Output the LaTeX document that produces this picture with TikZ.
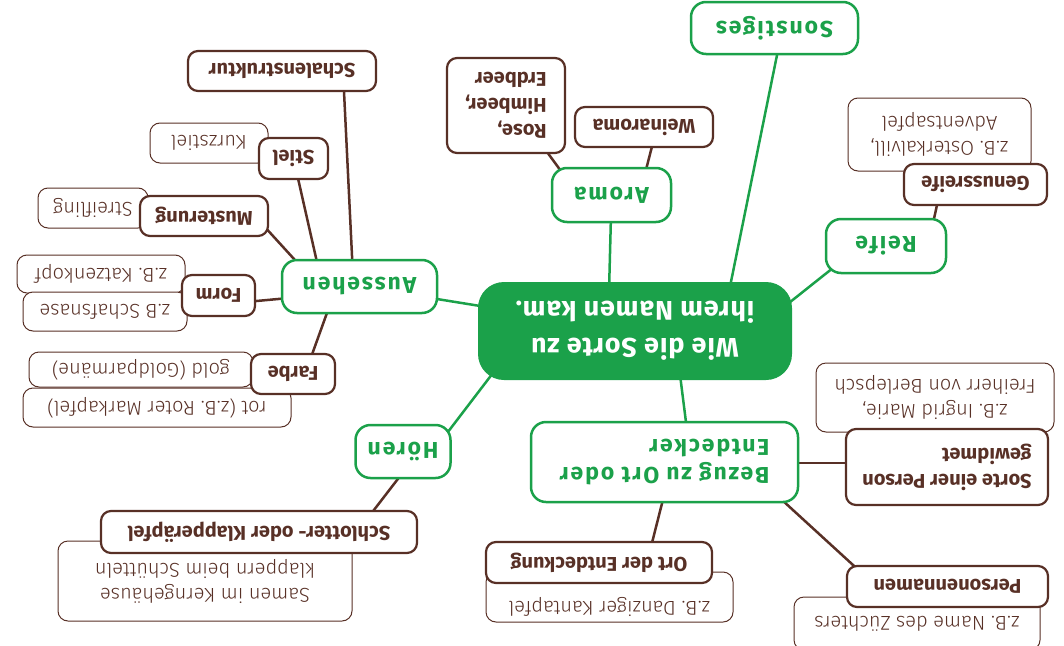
\documentclass[tikz,border=0pt]{standalone}
\usepackage{fontspec}
\setmainfont{Fira Sans}
\newfontfamily\zweigfont{Fira Sans}[LetterSpace=8]
\newfontfamily\mittefont{Fira Sans}[LetterSpace=3]
\newfontfamily\duennfont{Fira Sans Light}
\usetikzlibrary{backgrounds}

\definecolor{apfelgruen}{RGB}{27,161,74}
\definecolor{rinde}{RGB}{88,48,38}

\tikzset{
  kasten/.style={rotate=180, inner sep=0pt, fill=white},
  zentrum/.style={kasten, fill=apfelgruen, text=white, rounded corners=26pt, align=center,
    font=\mittefont\bfseries\fontsize{27}{37}\selectfont},
  zweig/.style={kasten, draw=apfelgruen, line width=2.5pt, rounded corners=15pt, text=apfelgruen,
    font=\zweigfont\bfseries\fontsize{23}{28}\selectfont},
  stichwort/.style={kasten, draw=rinde, line width=2.2pt, rounded corners=10pt, text=rinde,
    font=\bfseries\fontsize{20}{26}\selectfont},
  beispiel/.style={kasten, draw=rinde, line width=1pt, rounded corners=10pt, text=rinde,
    font=\duennfont\fontsize{20}{25}\selectfont},
  gruenlinie/.style={draw=apfelgruen, line width=2.5pt},
  braunlinie/.style={draw=rinde, line width=2.5pt},
}

\begin{document}
\begin{tikzpicture}[x=1pt, y=-1pt]
  \useasboundingbox (0,0) rectangle (1064,645);

  % Mitte
  \node[zentrum, minimum width=314pt, minimum height=98pt] (mitte) at (635,331)
    {Wie die Sorte zu\\ihrem Namen kam.};

  % Hauptzweige
  \node[zweig, minimum width=155pt, minimum height=53pt] (aussehen) at (359.5,286.5) {Aussehen};
  \node[zweig, minimum width=95pt, minimum height=53pt] (hoeren) at (403,451.5) {Hören};
  \node[zweig, minimum width=119pt, minimum height=54pt] (aroma) at (611.5,195) {Aroma};
  \node[zweig, minimum width=167pt, minimum height=52pt] (sonstiges) at (774.5,28) {Sonstiges};
  \node[zweig, minimum width=120pt, minimum height=54pt] (reife) at (886,246) {Reife};
  \node[zweig, minimum width=267pt, minimum height=80pt, align=left] (bezug) at (664.5,462)
    {Bezug zu Ort oder\\Entdecker};

  % Beispiele (liegen unter den Stichworten)
  \node[beispiel, minimum width=118pt, minimum height=40pt] (kurzstiel) at (209,143) {Kurzstiel};
  \node[beispiel, minimum width=110pt, minimum height=40pt] (streifling) at (93,208) {Streifling};
  \node[beispiel, minimum width=168pt, minimum height=38pt] (katzenkopf) at (101,274) {z.B. Katzenkopf};
  \node[beispiel, minimum width=164pt, minimum height=39pt] (schafsnase) at (105,311.5) {z.B Schafsnase};
  \node[beispiel, minimum width=224pt, minimum height=35pt] (gold) at (141,369.5) {gold (Goldparmäne)};
  \node[beispiel, minimum width=268pt, minimum height=39pt] (rot) at (157,407.5) {rot (z.B. Roter Markapfel)};
  \node[beispiel, minimum width=294pt, minimum height=80pt, align=center] (samen) at (205,581)
    {Samen im Kerngehäuse\\klappern beim Schütteln};
  \node[beispiel, minimum width=183pt, minimum height=73pt, align=center] (osterkalvill) at (939.5,134.5)
    {z.B. Osterkalvill,\\Adventsapfel};
  \node[beispiel, minimum width=238pt, minimum height=69pt, align=center] (ingrid) at (935,397.5)
    {z.B. Ingrid Marie,\\Freiherr von Berlepsch};
  \node[beispiel, minimum width=246pt, minimum height=53pt] (zuechter) at (917,623.5) {z.B. Name des Züchters};
  \node[beispiel, minimum width=247pt, minimum height=50pt, text height=14pt, text depth=22pt] (danzig) at (609.5,597)
    {z.B. Danziger Kantapfel};

  % Stichworte
  \node[stichwort, minimum width=188pt, minimum height=40pt] (schale) at (282,71) {Schalenstruktur};
  \node[stichwort, minimum width=69pt, minimum height=41pt] (stiel) at (293.5,158.5) {Stiel};
  \node[stichwort, minimum width=128pt, minimum height=40pt] (muster) at (204,216) {Musterung};
  \node[stichwort, minimum width=73pt, minimum height=41pt] (form) at (218.5,295.5) {Form};
  \node[stichwort, minimum width=84pt, minimum height=40pt] (farbe) at (293,374) {Farbe};
  \node[stichwort, minimum width=316pt, minimum height=42pt] (klapper) at (259,532) {Schlotter- oder Klapperäpfel};
  \node[stichwort, minimum width=138pt, minimum height=40pt] (weinaroma) at (644,127) {Weinaroma};
  \node[stichwort, minimum width=118pt, minimum height=95pt, align=left] (beeren) at (506,105.5)
    {Rose,\\Himbeer,\\Erdbeer};
  \node[stichwort, minimum width=143pt, minimum height=41pt] (genussreife) at (975.5,184.5) {Genussreife};
  \node[stichwort, minimum width=202pt, minimum height=76pt, align=left] (person) at (947,467)
    {Sorte einer Person\\gewidmet};
  \node[stichwort, minimum width=201pt, minimum height=41pt] (personennamen) at (947.5,586.5) {Personennamen};
  \node[stichwort, minimum width=226pt, minimum height=41pt] (ortentdeckung) at (599,562.5) {Ort der Entdeckung};

  \begin{scope}[on background layer]
    % gruene Aeste
    \draw[gruenlinie] (mitte.center) -- (aussehen.center);
    \draw[gruenlinie] ([xshift=-110pt]mitte.center) -- ([xshift=30pt]hoeren.center);
    \draw[gruenlinie] ([xshift=-27pt]mitte.center) -- (aroma.center);
    \draw[gruenlinie] ([xshift=86pt]mitte.center) -- ([xshift=8pt]sonstiges.center);
    \draw[gruenlinie] ([xshift=135pt,yshift=13pt]mitte.center) -- ([xshift=-38pt,yshift=-10pt]reife.center);
    \draw[gruenlinie] ([xshift=39.5pt]mitte.center) -- ([xshift=26.5pt]bezug.center);
    % braune Aeste
    \draw[braunlinie] ([xshift=-6pt]aussehen.center) -- ([xshift=61pt]schale.center);
    \draw[braunlinie] ([xshift=-37pt]aussehen.center) -- (stiel.center);
    \draw[braunlinie] ([xshift=-55pt,yshift=16pt]aussehen.center) -- ([xshift=59pt,yshift=-9pt]muster.center);
    \draw[braunlinie] ([yshift=-5pt]aussehen.center) -- ([yshift=-9pt]form.center);
    \draw[braunlinie] ([xshift=-23pt]aussehen.center) -- ([xshift=12pt]farbe.center);
    \draw[braunlinie] ([xshift=16pt]hoeren.center) -- ([xshift=98pt]klapper.center);
    \draw[braunlinie] ([xshift=28pt]aroma.center) -- ([xshift=13pt]weinaroma.center);
    \draw[braunlinie] ([xshift=-33pt]aroma.center) -- ([xshift=7pt]beeren.center);
    \draw[braunlinie] ([xshift=42pt]reife.center) -- ([xshift=-34pt]genussreife.center);
    \draw[braunlinie] ([yshift=-1pt]bezug.center) -- ([yshift=4pt]person.center);
    \draw[braunlinie] ([xshift=76pt]bezug.center) -- ([xshift=-71pt]personennamen.center);
    \draw[braunlinie] ([xshift=8pt]bezug.center) -- ([xshift=48pt]ortentdeckung.center);
  \end{scope}
\end{tikzpicture}
\end{document}
